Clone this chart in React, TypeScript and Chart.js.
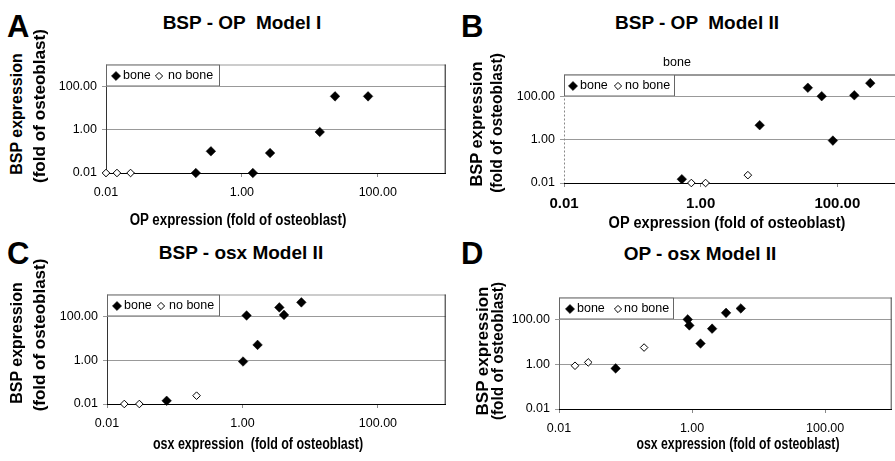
import React, { useEffect, useRef } from "react";
import { Chart, registerables } from "chart.js";
Chart.register(...registerables);

const FONT = 'Arial, "Liberation Sans", Helvetica, sans-serif';

// ---- data ----
const tickValues = [0.01, 1, 100];
const seriesLabels = ["bone", "no bone"];

// Panel A: BSP - OP Model I
const aBoneX = [0.21, 0.35, 1.45, 2.6, 14, 23.5, 72];
const aBoneY = [0.01, 0.1, 0.01, 0.083, 0.78, 34, 34];
const aNoX = [0.01, 0.0145, 0.023];
const aNoY = [0.01, 0.01, 0.01];

// Panel B: BSP - OP Model II
const bBoneX = [0.53, 7.3, 37, 59, 86, 177, 303];
const bBoneY = [0.015, 4.6, 245, 100, 0.9, 110, 400];
const bNoX = [0.73, 1.18, 4.9];
const bNoY = [0.01, 0.01, 0.023];

// Panel C: BSP - osx Model II
const cBoneX = [0.076, 1.02, 1.15, 1.67, 3.5, 4.1, 7.4];
const cBoneY = [0.014, 0.87, 110, 5, 257, 117, 437];
const cNoX = [0.018, 0.03, 0.21];
const cNoY = [0.01, 0.01, 0.024];

// Panel D: OP - osx Model II
const dBoneX = [0.071, 0.86, 0.91, 1.34, 2.0, 3.24, 5.4];
const dBoneY = [0.66, 104, 56, 8.6, 40, 205, 323];
const dNoX = [0.0174, 0.0275, 0.19];
const dNoY = [0.87, 1.23, 5.7];

type Cfg = {
  area: { l: number; t: number; r: number; b: number };
  boneX: number[]; boneY: number[]; noX: number[]; noY: number[];
  xTickFont: { size: number; weight: string };
  frame: { top: string; right: string; left: string; leftDash: number[] };
  legend: { w: number; h: number; marks: number[]; texts: number[] };
};

const framePlugin = {
  id: "frame",
  beforeDatasetsDraw(chart: any, _a: any, o: any) {
    const { ctx, chartArea } = chart;
    const { left, top, right, bottom } = chartArea;
    ctx.save();
    ctx.lineWidth = 1;
    ctx.strokeStyle = o.top;
    ctx.beginPath();
    ctx.moveTo(left, top + 0.5);
    ctx.lineTo(right, top + 0.5);
    ctx.stroke();
    ctx.strokeStyle = o.right;
    ctx.beginPath();
    ctx.moveTo(right - 0.5, top);
    ctx.lineTo(right - 0.5, bottom);
    ctx.stroke();
    ctx.strokeStyle = o.left;
    ctx.setLineDash(o.leftDash || []);
    ctx.beginPath();
    ctx.moveTo(left + 0.5, top);
    ctx.lineTo(left + 0.5, bottom);
    ctx.stroke();
    ctx.restore();
  },
};

const boxLegend = {
  id: "boxLegend",
  beforeDatasetsDraw(chart: any, _a: any, o: any) {
    const { ctx, chartArea } = chart;
    const x0 = chartArea.left;
    const y0 = chartArea.top;
    ctx.save();
    ctx.fillStyle = "#fff";
    ctx.fillRect(x0, y0, o.w, o.h);
    ctx.strokeStyle = "#666";
    ctx.lineWidth = 1;
    ctx.strokeRect(x0 + 0.5, y0 + 0.5, o.w - 1, o.h - 1);
    const cy = y0 + o.h / 2 + 0.5;
    chart.data.datasets.forEach((ds: any, i: number) => {
      const mx = x0 + o.marks[i];
      const r = i === 0 ? 4.6 : 3.6;
      ctx.beginPath();
      ctx.moveTo(mx - r, cy);
      ctx.lineTo(mx, cy - r);
      ctx.lineTo(mx + r, cy);
      ctx.lineTo(mx, cy + r);
      ctx.closePath();
      ctx.fillStyle = ds.backgroundColor;
      ctx.fill();
      ctx.strokeStyle = ds.borderColor;
      ctx.lineWidth = ds.borderWidth;
      ctx.stroke();
      ctx.fillStyle = "#000";
      ctx.font = `12.5px ${FONT}`;
      ctx.textBaseline = "middle";
      ctx.textAlign = "left";
      ctx.fillText(ds.label, x0 + o.texts[i], cy);
    });
    ctx.restore();
  },
};

const YW = 60, XH = 40, PT = 12, PR = 4;

function Panel({ cfg }: { cfg: Cfg }) {
  const ref = useRef<HTMLCanvasElement>(null);
  const { l, t, r, b } = cfg.area;
  const w = r - l + YW + PR;
  const h = b - t + PT + XH;
  useEffect(() => {
    const setTicks = (s: any) => {
      s.ticks = tickValues.map((v) => ({ value: v }));
    };
    const chart = new Chart(ref.current as HTMLCanvasElement, {
      type: "scatter",
      data: {
        datasets: [
          {
            label: seriesLabels[0],
            data: cfg.boneX.map((x, i) => ({ x, y: cfg.boneY[i] })),
            pointStyle: "rectRot",
            pointRadius: 4.8,
            backgroundColor: "#000",
            borderColor: "#000",
            borderWidth: 0.5,
            clip: false,
          },
          {
            label: seriesLabels[1],
            data: cfg.noX.map((x, i) => ({ x, y: cfg.noY[i] })),
            pointStyle: "rectRot",
            pointRadius: 3.8,
            backgroundColor: "#fff",
            borderColor: "#000",
            borderWidth: 1,
            clip: false,
          },
        ],
      } as any,
      options: {
        responsive: false,
        animation: false,
        devicePixelRatio: 1,
        events: [],
        layout: { padding: { top: PT, right: PR, left: 0, bottom: 0 } },
        plugins: {
          legend: { display: false },
          tooltip: { enabled: false },
          frame: cfg.frame,
          boxLegend: cfg.legend,
        } as any,
        scales: {
          x: {
            type: "logarithmic",
            min: 0.01,
            max: 1000,
            afterFit: (s: any) => { s.height = XH; },
            afterBuildTicks: setTicks,
            ticks: {
              callback: (v: any) => Number(v).toFixed(2),
              font: { family: FONT, size: cfg.xTickFont.size, weight: cfg.xTickFont.weight as any },
              color: "#000",
              padding: cfg.xTickFont.size > 13 ? 8 : 8.5,
              maxRotation: 0,
              autoSkip: false,
            },
            grid: { drawOnChartArea: false, tickLength: 4, color: "#888" },
            border: { color: "#000", width: 1 },
          },
          y: {
            type: "logarithmic",
            min: 0.01,
            max: 1000,
            afterFit: (s: any) => { s.width = YW; },
            afterBuildTicks: setTicks,
            ticks: {
              callback: (v: any) => Number(v).toFixed(2),
              font: { family: FONT, size: 12.5 },
              color: "#000",
              padding: 5,
              autoSkip: false,
            },
            grid: { color: "#999", tickLength: 4 },
            border: { display: false },
          },
        } as any,
      },
      plugins: [framePlugin, boxLegend],
    });
    return () => chart.destroy();
  }, []);
  return (
    <canvas
      ref={ref}
      width={w}
      height={h}
      style={{ position: "absolute", left: l - YW, top: t - PT, width: w, height: h }}
    />
  );
}

function Txt(props: {
  x: number; y: number; text: string; size: number; bold?: boolean;
  sx?: number; rot?: boolean; left?: boolean;
}) {
  const { x, y, text, size, bold = true, sx = 1, rot = false, left = false } = props;
  const W = 400;
  const style: React.CSSProperties = {
    position: "absolute",
    top: y - size / 2,
    height: size,
    lineHeight: `${size}px`,
    fontSize: size,
    fontFamily: FONT,
    fontWeight: bold ? 700 : 400,
    whiteSpace: "pre",
    color: "#000",
  };
  if (left) {
    style.left = x;
  } else {
    style.left = x - W / 2;
    style.width = W;
    style.textAlign = "center";
    style.transform = `${rot ? "rotate(-90deg) " : ""}scaleX(${sx})`;
    style.transformOrigin = "center";
  }
  return <div style={style}>{text}</div>;
}

const cfgA: Cfg = {
  area: { l: 106, t: 64, r: 447, b: 173 },
  boneX: aBoneX, boneY: aBoneY, noX: aNoX, noY: aNoY,
  xTickFont: { size: 12.5, weight: "normal" },
  frame: { top: "#999", right: "#111", left: "#333", leftDash: [] },
  legend: { w: 114, h: 22, marks: [10, 53], texts: [17, 62] },
};
const cfgB: Cfg = {
  area: { l: 564, t: 74, r: 907, b: 183 },
  boneX: bBoneX, boneY: bBoneY, noX: bNoX, noY: bNoY,
  xTickFont: { size: 15, weight: "bold" },
  frame: { top: "#333", right: "#333", left: "#888", leftDash: [2, 2] },
  legend: { w: 111, h: 22, marks: [9, 54], texts: [16, 61] },
};
const cfgC: Cfg = {
  area: { l: 107, t: 294, r: 447, b: 404 },
  boneX: cBoneX, boneY: cBoneY, noX: cNoX, noY: cNoY,
  xTickFont: { size: 12.5, weight: "normal" },
  frame: { top: "#999", right: "#222", left: "#333", leftDash: [] },
  legend: { w: 113, h: 22, marks: [10, 54], texts: [17, 62] },
};
const cfgD: Cfg = {
  area: { l: 559, t: 297, r: 893, b: 409 },
  boneX: dBoneX, boneY: dBoneY, noX: dNoX, noY: dNoY,
  xTickFont: { size: 12.5, weight: "normal" },
  frame: { top: "#777", right: "#444", left: "#666", leftDash: [] },
  legend: { w: 115, h: 22, marks: [11, 59], texts: [18, 65] },
};

export default function App() {
  return (
    <div
      style={{
        position: "fixed", left: 0, top: 0, width: 895, height: 461,
        overflow: "hidden", background: "#fff",
      }}
    >
      <Panel cfg={cfgA} />
      <Panel cfg={cfgB} />
      <Panel cfg={cfgC} />
      <Panel cfg={cfgD} />

      {/* panel letters */}
      <Txt x={7} y={26.5} text="A" size={31} left />
      <Txt x={461} y={26} text="B" size={31} left />
      <Txt x={7} y={253} text="C" size={31} left />
      <Txt x={461} y={253.5} text="D" size={31} left />

      {/* titles */}
      <Txt x={242} y={22.5} text="BSP - OP  Model I" size={19} />
      <Txt x={697} y={22.5} text="BSP - OP  Model II" size={19} />
      <Txt x={241} y={252.5} text="BSP - osx Model II" size={19} />
      <Txt x={700} y={253} text="OP - osx Model II" size={19} />

      {/* stray label in B */}
      <Txt x={677} y={62} text="bone" size={12.5} bold={false} />

      {/* y titles */}
      <Txt x={17} y={114} text="BSP expression" size={16} rot />
      <Txt x={40} y={105.5} text="(fold of osteoblast)" size={16} rot sx={1.07} />
      <Txt x={477} y={124} text="BSP expression" size={16} rot sx={1.03} />
      <Txt x={497} y={123} text="(fold of osteoblast)" size={16} rot sx={0.97} />
      <Txt x={17} y={343} text="BSP expression" size={16} rot />
      <Txt x={40} y={335} text="(fold of osteoblast)" size={16} rot sx={1.06} />
      <Txt x={483} y={351} text="BSP expression" size={16} rot sx={1.06} />
      <Txt x={498} y={351} text="(fold of osteoblast)" size={16} rot sx={0.96} />

      {/* x titles */}
      <Txt x={238} y={219.5} text="OP expression (fold of osteoblast)" size={16} sx={0.833} />
      <Txt x={727} y={223} text="OP expression (fold of osteoblast)" size={16} sx={0.91} />
      <Txt x={258} y={443.5} text="osx expression  (fold of osteoblast)" size={16} sx={0.78} />
      <Txt x={738} y={443.5} text="osx expression (fold of osteoblast)" size={16} sx={0.766} />
    </div>
  );
}
